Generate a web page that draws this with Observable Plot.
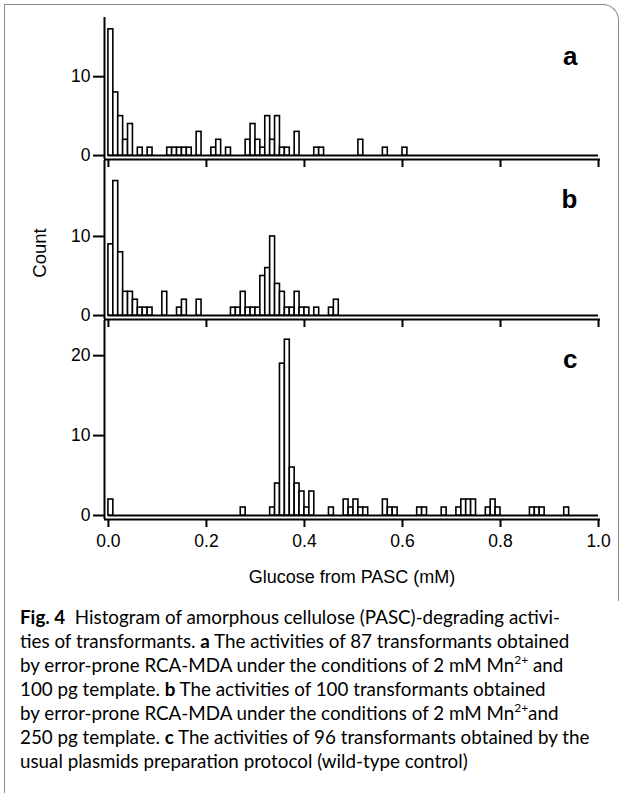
<!DOCTYPE html>
<html><head><meta charset="utf-8">
<script src="https://cdn.jsdelivr.net/npm/d3@7"></script>
<script src="https://cdn.jsdelivr.net/npm/@observablehq/plot@0.6"></script>
<style>
html,body{margin:0;padding:0;background:#fff;}
#fig{position:relative;width:632px;height:793px;overflow:hidden;font-family:"Liberation Sans",Arial,Helvetica,sans-serif;color:#000;}
#fig svg{position:absolute;left:0;top:0;}
#fig svg [aria-label$="-axis tick"], #fig svg [aria-label$="-axis tick"] path, #fig svg .tick line{stroke-width:2px;}
#fig svg [aria-label$="-axis tick label"], #fig svg [aria-label$="-axis tick label"] text, #fig svg .tick text{font-size:17.5px !important;}
#box{position:absolute;left:4px;top:4px;width:614px;height:596px;border-top:1.5px solid #8a8a8a;border-right:1.5px solid #8a8a8a;border-top-right-radius:16px;}
#lline{position:absolute;left:4px;top:4px;width:0;height:789px;border-left:1.5px solid #8a8a8a;}
#xlabel{position:absolute;left:104px;width:496px;top:567px;text-align:center;font-size:18px;}
#ylabel{position:absolute;left:40px;top:253px;font-size:18.5px;transform:translate(-50%,-50%) rotate(-90deg);white-space:nowrap;}
#caption{position:absolute;left:20px;top:605px;font-family:Lato,"Open Sans",sans-serif;font-size:18.8px;line-height:24px;white-space:nowrap;}
#caption b{font-weight:bold;}
sup{font-size:12px;line-height:0;vertical-align:8px;}
</style></head>
<body>
<div id="fig">
  <div id="box"></div><div id="lline"></div>
  <div id="ylabel">Count</div>
  <div id="xlabel">Glucose from PASC (mM)</div>
  <div id="caption">
    <div><b>Fig. 4</b>&nbsp; Histogram of amorphous cellulose (PASC)-degrading activi-</div>
    <div>ties of transformants. <b>a</b> The activities of 87 transformants obtained</div>
    <div>by error-prone RCA-MDA under the conditions of 2 mM Mn<sup>2+</sup> and</div>
    <div>100 pg template. <b>b</b> The activities of 100 transformants obtained</div>
    <div>by error-prone RCA-MDA under the conditions of 2 mM Mn<sup>2+</sup>and</div>
    <div>250 pg template. <b>c</b> The activities of 96 transformants obtained by the</div>
    <div>usual plasmids preparation protocol (wild-type control)</div>
  </div>
</div>
<script>
// bin width (mM)
const binWidth = 0.01;
const xTicks = [0, 0.2, 0.4, 0.6, 0.8, 1.0];
const xDomain = [-0.008, 1.004];

// Panel a: bin index (x / 0.01) and count
const aBins   = [0,1,2,3,4,6,8,12,13,14,15,16,18,21,22,24,28,29,30,31,32,33,34,35,36,38,42,43,51,56,60];
const aCounts = [16,8,5,2,4,1,1,1,1,1,1,1,3,1,2,1,2,4,2,1,5,2,5,1,1,3,1,1,2,1,1];
// Panel b
const bBins   = [0,1,2,3,4,5,6,7,8,11,14,15,18,25,26,27,28,29,30,31,32,33,34,35,36,37,38,39,40,42,45,46];
const bCounts = [9,17,8,3,3,2,1,1,1,3,1,2,2,1,1,3,1,1,1,5,6,10,4,3,1,1,3,1,1,1,1,2];
// Panel c
const cBins   = [0,27,33,34,35,36,37,38,39,40,41,45,48,49,50,51,52,56,57,58,63,64,68,71,72,73,74,77,78,79,86,87,88,93];
const cCounts = [2,1,1,4,19,22,6,4,3,1,3,1,2,1,2,1,1,2,1,1,1,1,1,1,2,2,2,1,2,1,1,1,1,1];

const panels = [
  {letter:"a", bins:aBins, counts:aCounts, yDomain:[-0.5,17.5], yTicks:[0,10], top:17,  bottom:159, height:167, labels:false},
  {letter:"b", bins:bBins, counts:bCounts, yDomain:[-0.5,19.6], yTicks:[0,10], top:160, bottom:319, height:327, labels:false},
  {letter:"c", bins:cBins, counts:cCounts, yDomain:[-0.5,24.4], yTicks:[0,10,20], top:320, bottom:519, height:600, labels:true}
];

const fig = document.getElementById("fig");
for (const p of panels) {
  const data = p.bins.map((b, i) => ({x1: b * binWidth, x2: (b + 1) * binWidth, count: p.counts[i]}));
  const svg = Plot.plot({
    width: 632,
    height: p.height,
    marginLeft: 104,
    marginRight: 32,
    marginTop: p.top,
    marginBottom: p.height - p.bottom,
    style: {background: "transparent", overflow: "visible", fontSize: "17.5px", fontFamily: "'Liberation Sans', Arial, sans-serif", color: "#000"},
    x: {domain: xDomain, ticks: xTicks, tickSize: 8, tickPadding: 7, tickFormat: p.labels ? d3.format(".1f") : () => "", label: null},
    y: {domain: p.yDomain, ticks: p.yTicks, tickSize: 11, tickPadding: 3, label: null},
    marks: [
      Plot.ruleY([0], {x1: xTicks[0], x2: xTicks[xTicks.length - 1], stroke: "#000", strokeWidth: 2}),
      Plot.rect(data, {x1: "x1", x2: "x2", y1: 0, y2: "count", fill: "white", stroke: "#000", strokeWidth: 1.6}),
      Plot.ruleX([xDomain[0]], {stroke: "#000", strokeWidth: 2}),
      Plot.ruleY([p.yDomain[0]], {stroke: "#000", strokeWidth: 2}),
      Plot.text([p.letter], {frameAnchor: "top-right", dx: -23, dy: 29, fontSize: 26, fontWeight: "bold", fill: "#000"})
    ]
  });
  fig.appendChild(svg);
}
</script>
</body></html>
